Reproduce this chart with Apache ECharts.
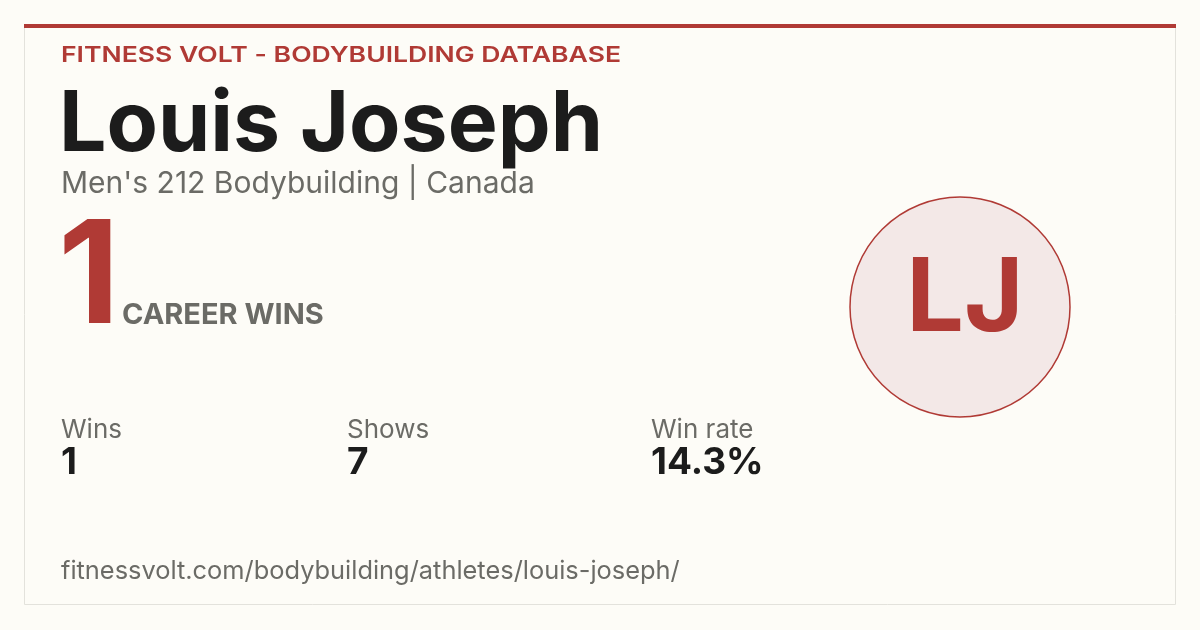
<!DOCTYPE html>
<html>
<head>
<meta charset="utf-8">
<script src="https://cdn.jsdelivr.net/npm/echarts@6/dist/echarts.min.js"></script>
<style>
html, body { margin: 0; padding: 0; background: #fdfcf7; }
#card { width: 1200px; height: 630px; }
</style>
</head>
<body>
<div id="card"></div>
<script>
var site = 'FITNESS VOLT - BODYBUILDING DATABASE';
var athlete = 'Louis Joseph';
var initials = 'LJ';
var division = "Men's 212 Bodybuilding | Canada";
var careerWins = 1;
var statLabels = ['Wins', 'Shows', 'Win rate'];
var statValues = ['1', '7', '14.3%'];
var statX = [61, 347, 651];
var url = 'fitnessvolt.com/bodybuilding/athletes/louis-joseph/';

var RED = '#b03a35';
var INK = '#1c1c1c';
var GREY = '#6b6b66';
var FONT = 'Inter';

// header is letter-spaced in the original; stretch it to the same width
var headFont = '600 22px ' + FONT;
var ctx = document.createElement('canvas').getContext('2d');
ctx.font = headFont;
var headScale = 560 / ctx.measureText(site).width;

var myChart = echarts.init(document.getElementById('card'));

var elements = [
	// card frame
	{ type: 'rect', shape: { x: 24.5, y: 24.5, width: 1151, height: 580 },
	  style: { fill: '#fdfcf7', stroke: '#e3e2dc', lineWidth: 1 } },
	{ type: 'rect', shape: { x: 24, y: 24, width: 1152, height: 4 }, style: { fill: RED } },
	// header
	{ type: 'text', x: 61, y: 55, scaleX: headScale, style: { text: site, fill: RED, font: headFont, verticalAlign: 'middle' } },
	{ type: 'text', x: 59, y: 126, style: { text: athlete, fill: INK, font: 'bold 84px ' + FONT, verticalAlign: 'middle' } },
	{ type: 'text', x: 61, y: 184, style: { text: division, fill: GREY, font: '30px ' + FONT, verticalAlign: 'middle' } },
	// career wins
	{ type: 'text', x: 58, y: 280, style: { text: String(careerWins), fill: RED, font: 'bold 143px ' + FONT, verticalAlign: 'middle' } },
	{ type: 'text', x: 122, y: 315, style: { text: 'CAREER WINS', fill: GREY, font: 'bold 29px ' + FONT, verticalAlign: 'middle' } },
	// monogram
	{ type: 'circle', shape: { cx: 960, cy: 307, r: 110 }, style: { fill: '#f3e8e7', stroke: RED, lineWidth: 1.5 } },
	{ type: 'text', x: 965, y: 300, style: { text: initials, fill: RED, font: 'bold 102px ' + FONT, align: 'center', verticalAlign: 'middle' } },
	// footer url
	{ type: 'text', x: 61, y: 571, style: { text: url, fill: GREY, font: '25.4px ' + FONT, verticalAlign: 'middle' } }
];

statLabels.forEach(function (lab, i) {
	elements.push({ type: 'text', x: statX[i], y: 430, style: { text: lab, fill: GREY, font: '26px ' + FONT, verticalAlign: 'middle' } });
	elements.push({ type: 'text', x: statX[i], y: 463, style: { text: statValues[i], fill: INK, font: 'bold 37px ' + FONT, verticalAlign: 'middle' } });
});

myChart.setOption({
	backgroundColor: '#fdfcf7',
	graphic: { elements: elements }
});
</script>
</body>
</html>
